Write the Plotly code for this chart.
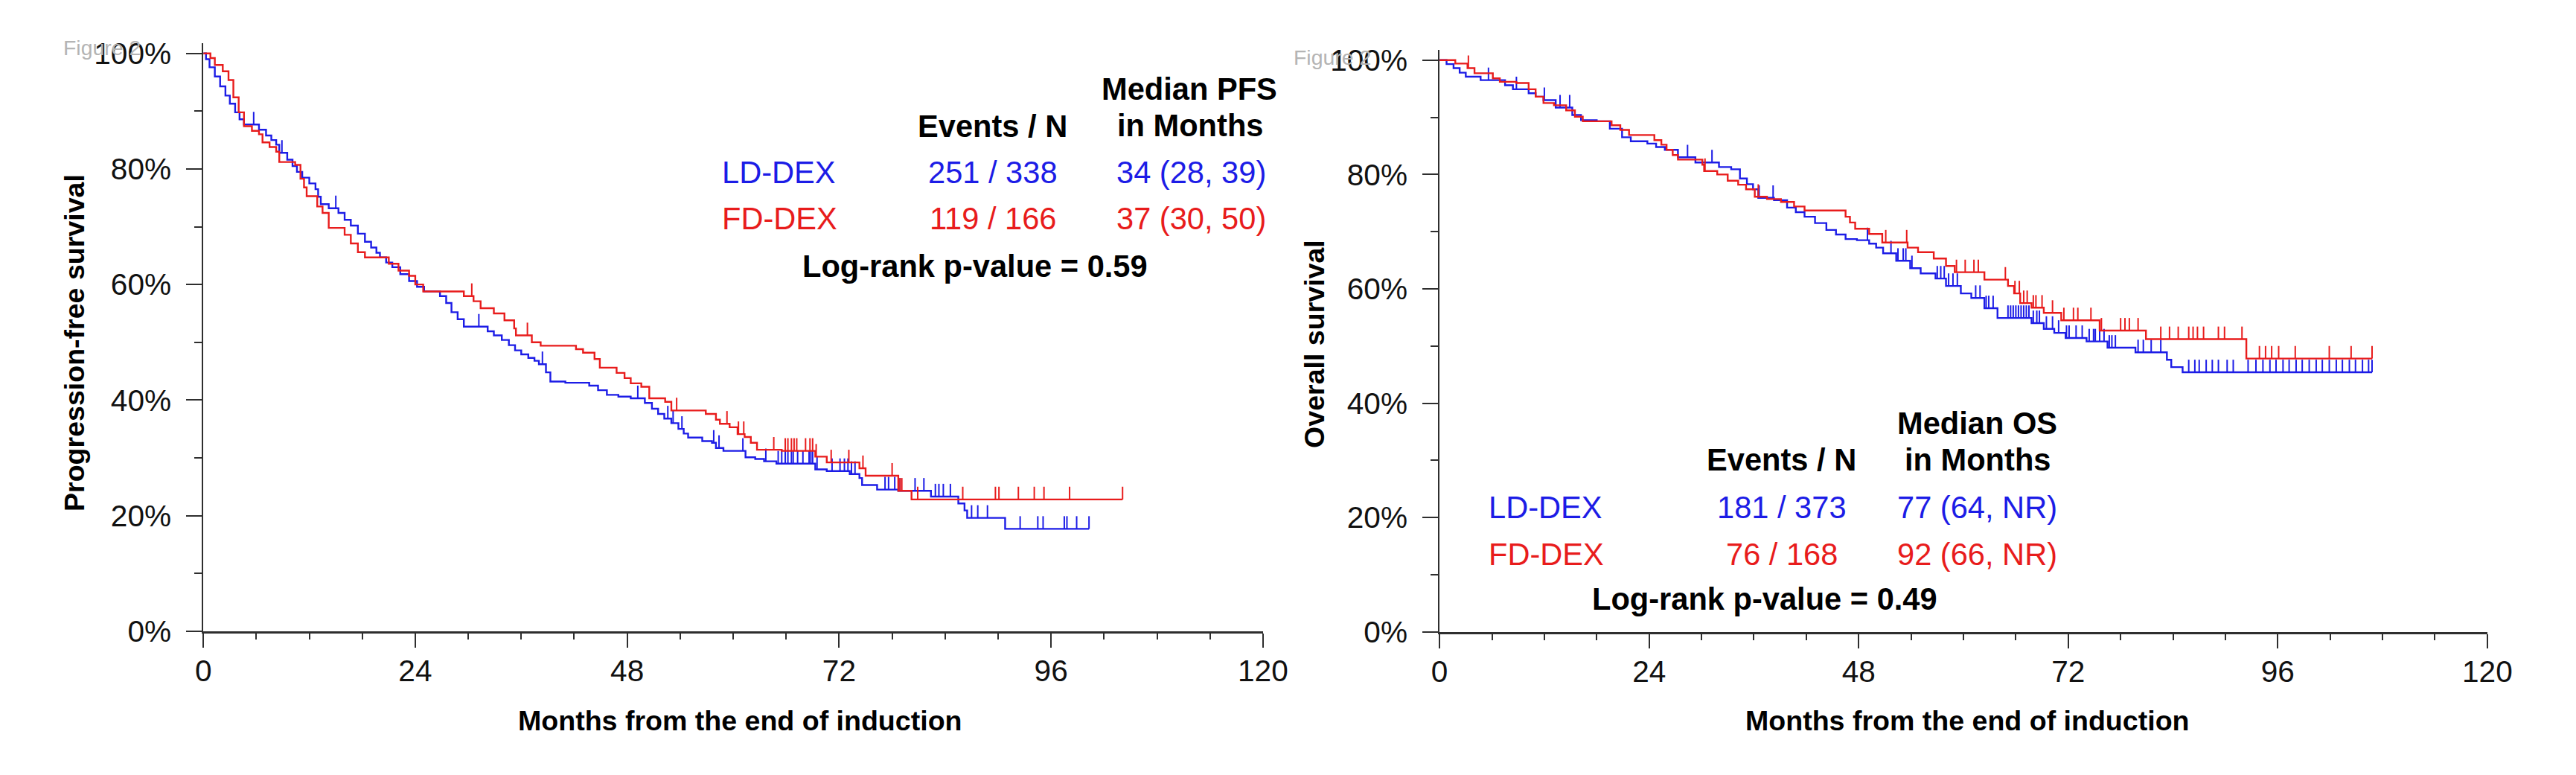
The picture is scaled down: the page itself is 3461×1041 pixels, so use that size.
import numpy as np
import plotly.graph_objects as go

W, H = 3461, 1041
FONT = "Liberation Sans, Arial, sans-serif"
BLUE = "#1c1ce6"
RED = "#e81c1c"

# ---------------- Progression-free survival (left panel) ----------------
pfs_ld_t = [0, 0.3, 0.7, 1.3, 1.9, 2.5, 3.0, 3.6, 4.1, 4.6, 6.3, 7.1, 7.7, 8.25, 8.6, 9.5, 10.1, 10.6,
            11.2, 12.0, 12.7, 13.0, 13.3, 14.2, 15.3, 16.0, 16.7, 17.5, 18.3, 19.0, 19.6, 20.0, 20.7,
            21.4, 22.3, 23.3, 24.2, 25.0, 26.8, 27.5, 28.1, 28.8, 29.5, 32.2, 32.9, 33.8, 34.6, 35.3,
            36.0, 36.8, 37.5, 38.0, 38.8, 39.3, 41.0, 43.7, 44.7, 45.7, 47.0, 48.4, 50.0, 50.8, 51.5,
            52.2, 53.0, 53.8, 54.4, 54.9, 56.5, 57.6, 58.05, 58.9, 61.4, 62.5, 63.5, 64.9, 69.3, 70.6,
            73.2, 74.3, 74.6, 76.3, 78.7, 82.4, 85.5, 86.2, 86.5, 90.8, 100.3]
pfs_ld_s = [100, 99.0, 97.6, 96.0, 94.3, 92.7, 91.3, 89.8, 88.6, 87.7, 86.8, 85.8, 85.0, 84.2, 82.8, 81.6,
            80.5, 79.5, 78.5, 77.5, 76.5, 75.2, 73.9, 73.2, 72.4, 71.2, 70.2, 68.8, 67.4, 66.4, 65.5,
            64.7, 63.8, 63.0, 61.8, 60.6, 59.6, 58.8, 58.0, 56.8, 55.2, 54.0, 52.7, 51.9, 51.2, 50.4,
            49.5, 48.6, 47.9, 47.3, 46.8, 46.2, 44.8, 43.2, 43.0, 42.5, 41.7, 40.9, 40.6, 40.3, 39.5,
            38.5, 37.6, 36.8, 36.0, 35.0, 34.2, 33.5, 32.9, 32.6, 31.7, 31.2, 30.1, 29.8, 29.4, 29.0,
            28.0, 27.7, 27.2, 26.5, 25.3, 24.5, 24.3, 23.3, 22.1, 20.9, 19.6, 17.7, 17.7]
pfs_ld_cens = [5.7, 8.9, 15.0, 31.2, 38.4, 49.2, 52.6, 53.2, 54.2, 57.8, 58.4, 61.1, 63.7, 65.1, 65.5,
               65.9, 66.2, 66.6, 66.8, 67.3, 67.9, 68.6, 68.8, 69.0, 69.5, 71.2, 72.1, 72.6, 73.0, 73.4,
               73.8, 77.2, 77.6, 78.3, 78.9, 80.6, 81.6, 82.9, 83.3, 83.8, 84.6, 87.0, 87.7, 88.8, 92.5,
               94.5, 95.1, 97.5, 97.8, 98.9, 100.3]

pfs_fd_t = [0, 0.8, 1.3, 2.2, 2.85, 3.4, 4.0, 4.6, 5.5, 6.3, 6.7, 7.5, 8.25, 8.6, 10.4, 11.0, 11.4, 11.7,
            12.9, 13.5, 14.2, 16.0, 16.7, 17.5, 18.3, 21.0, 22.1, 23.3, 24.0, 24.9, 29.5, 30.6, 31.4,
            32.9, 34.1, 35.2, 35.4, 37.2, 38.2, 42.2, 43.0, 44.3, 44.9, 46.8, 47.7, 48.4, 49.6, 50.5,
            52.3, 53.0, 56.9, 58.05, 58.5, 59.6, 60.5, 61.3, 62.0, 62.7, 65.5, 69.3, 70.6, 74.3, 75.0,
            78.7, 80.2, 104.1]
pfs_fd_s = [100, 99.2, 98.0, 96.9, 95.4, 92.4, 89.8, 87.4, 86.6, 86.0, 84.6, 83.8, 83.0, 81.2, 80.7, 78.3,
            76.8, 75.3, 73.5, 72.4, 69.8, 68.6, 67.1, 65.6, 64.7, 63.6, 62.4, 61.5, 60.0, 58.8, 58.0,
            57.1, 55.9, 55.0, 53.8, 52.4, 51.2, 50.0, 49.4, 48.8, 48.2, 47.1, 45.6, 44.7, 43.8, 42.9,
            42.3, 40.3, 39.7, 38.2, 37.6, 36.6, 35.9, 35.3, 34.1, 33.6, 32.6, 31.4, 31.2, 30.2, 29.2,
            28.2, 26.9, 24.3, 22.8, 22.8]
pfs_fd_cens = [30.4, 36.7, 53.6, 59.3, 60.6, 61.2, 64.6, 65.9, 66.2, 66.6, 66.9, 67.2, 68.2, 68.7, 69.0,
               69.4, 71.1, 73.1, 74.7, 78.0, 78.9, 79.1, 80.9, 86.0, 89.7, 90.1, 92.3, 94.1, 95.2, 98.1,
               104.1]

# ---------------- Overall survival (right panel) ----------------
os_ld_t = [0, 0.8, 1.6, 2.3, 3.0, 4.7, 7.5, 8.4, 10.2, 11.0, 11.9, 13.3, 15.2, 16.2, 18.0, 19.5, 20.9,
           21.9, 23.8, 24.8, 25.8, 27.3, 29.3, 32.0, 33.4, 34.4, 35.2, 35.9, 36.5, 38.3, 39.8, 40.8,
           41.8, 43.0, 44.3, 45.4, 46.5, 47.8, 49.2, 50.0, 50.8, 52.3, 53.9, 55.1, 56.8, 58.0, 59.7,
           60.9, 62.4, 63.9, 67.8, 69.2, 70.4, 71.7, 74.1, 76.5, 79.7, 83.3, 83.8, 85.1, 106.8]
os_ld_s = [100, 99.3, 98.6, 97.8, 97.1, 96.5, 95.6, 94.9, 94.2, 93.6, 93.0, 91.7, 90.4, 89.5, 89.3, 88.0,
           86.5, 85.8, 85.4, 84.8, 84.3, 83.0, 82.1, 81.3, 80.9, 79.3, 78.3, 77.4, 75.9, 75.5, 74.2,
           73.4, 72.6, 71.5, 70.3, 69.5, 68.7, 68.5, 67.9, 67.2, 66.2, 64.9, 63.6, 62.7, 61.8, 60.5,
           59.2, 58.4, 56.6, 54.9, 54.0, 53.0, 52.3, 51.4, 50.8, 49.7, 48.9, 47.6, 46.3, 45.4, 45.4]
os_ld_cens = [5.6, 8.8, 12.0, 13.8, 14.9, 28.4, 31.2, 36.6, 38.2, 49.0, 51.7, 52.5, 53.1, 53.4, 54.1,
              57.0, 57.4, 57.8, 58.3, 58.8, 59.3, 61.4, 61.9, 62.6, 62.9, 63.4, 65.1, 65.4, 65.7, 66.0,
              66.3, 66.6, 66.9, 67.2, 67.5, 68.0, 68.4, 68.7, 69.5, 70.2, 70.9, 71.8, 72.1, 72.9, 73.6,
              74.4, 74.9, 75.1, 75.6, 76.1, 76.7, 77.0, 77.4, 80.0, 80.6, 81.5, 82.6, 85.8, 86.5, 87.0,
              87.8, 88.5, 89.2, 90.2, 90.9, 92.6, 93.5, 94.3, 95.1, 95.8, 96.6, 97.3, 98.1, 98.8, 99.6,
              100.4, 101.1, 101.9, 102.7, 103.4, 104.2, 104.9, 105.7, 106.4, 106.8]

os_fd_t = [0, 1.8, 3.2, 4.0, 6.1, 6.9, 8.8, 10.2, 11.0, 11.9, 13.1, 14.5, 15.5, 16.4, 19.7, 20.7, 21.7,
           24.6, 25.4, 26.0, 26.7, 27.3, 30.1, 30.3, 31.8, 33.0, 34.2, 35.1, 36.1, 37.5, 39.1, 40.6,
           41.8, 46.5, 47.0, 47.6, 49.2, 50.7, 53.6, 54.8, 56.6, 58.0, 59.0, 62.4, 65.1, 65.8, 66.5,
           67.8, 69.2, 71.2, 75.6, 80.9, 92.4, 106.8]
os_fd_s = [100, 99.4, 98.6, 97.7, 96.8, 96.2, 96.0, 94.9, 93.6, 92.5, 92.1, 91.2, 90.1, 89.3, 88.6, 87.8,
           86.9, 86.0, 85.2, 84.3, 83.4, 82.6, 81.7, 80.6, 80.0, 78.9, 78.2, 77.4, 76.1, 75.7, 75.2,
           74.4, 73.7, 72.6, 71.6, 70.5, 69.6, 68.1, 67.2, 66.4, 65.3, 64.0, 62.9, 61.6, 60.5, 59.2,
           57.5, 56.7, 55.8, 54.5, 52.7, 51.2, 47.8, 47.8]
os_fd_cens = [3.3, 30.4, 36.5, 51.1, 53.5, 59.2, 60.2, 61.2, 61.7, 64.8, 65.9, 66.4, 66.9, 67.3, 68.0,
              68.3, 69.0, 70.2, 71.5, 72.6, 73.1, 74.6, 75.8, 78.0, 78.5, 79.0, 80.0, 82.6, 83.6, 84.6,
              85.8, 86.3, 86.8, 87.5, 89.2, 89.9, 91.9, 93.9, 94.6, 95.3, 96.1, 98.0, 101.9, 104.4, 106.8]

x_ticks = [0, 24, 48, 72, 96, 120]
y_ticks = [0, 20, 40, 60, 80, 100]
y_ticktext = [f"{v}%" for v in y_ticks]


def step_at(ts, ss, c):
    ts = np.asarray(ts)
    ss = np.asarray(ss)
    idx = np.searchsorted(ts, np.asarray(c), side="right") - 1
    return ss[np.clip(idx, 0, len(ss) - 1)]


# layout calibration: the photographed page comes out slightly shrunk/offset,
# so target pixel positions are mapped back to page pixels.
SX, OX = 0.990, 9.0
SY, OY = 0.973, 7.0
FS = 1.015


def cx(x):
    return (x - OX) / SX


def cy(y):
    return (y - OY) / SY


def px_x(x):
    return cx(x) / W


def px_y(y):
    return 1 - cy(y) / H


fig = go.Figure()


def add_curve(ts, ss, cens, color, xa, ya):
    fig.add_trace(go.Scatter(x=ts, y=ss, mode="lines", line=dict(color=color, width=2.4, shape="hv"),
                             xaxis=xa, yaxis=ya, showlegend=False, hoverinfo="skip"))
    cyv = step_at(ts, ss, cens)
    fig.add_trace(go.Scatter(x=cens, y=cyv, mode="markers",
                             marker=dict(size=1, color="rgba(0,0,0,0)"),
                             error_y=dict(type="data", symmetric=False, array=[2.2] * len(cens),
                                          arrayminus=[0] * len(cens), width=0, thickness=2, color=color),
                             xaxis=xa, yaxis=ya, showlegend=False, hoverinfo="skip"))


add_curve(pfs_ld_t, pfs_ld_s, pfs_ld_cens, BLUE, "x", "y")
add_curve(pfs_fd_t, pfs_fd_s, pfs_fd_cens, RED, "x", "y")
add_curve(os_ld_t, os_ld_s, os_ld_cens, BLUE, "x2", "y2")
add_curve(os_fd_t, os_fd_s, os_fd_cens, RED, "x2", "y2")

AX = "#2e2e2e"
tickfont = dict(family=FONT, size=40 * FS, color="#111111")


def xaxis(domain, anchor):
    return dict(domain=domain, range=[0, 120], tickvals=x_ticks, ticks="outside", ticklen=19,
                tickwidth=2, tickcolor=AX, showline=True, linewidth=3, linecolor=AX, showgrid=False,
                zeroline=False, tickfont=tickfont, ticklabelstandoff=-3, anchor=anchor,
                minor=dict(dtick=6, ticks="outside", ticklen=8, tickwidth=2, tickcolor=AX, showgrid=False))


def yaxis(domain, anchor):
    return dict(domain=domain, range=[0, 101.8], tickvals=y_ticks, ticktext=y_ticktext, ticks="outside",
                ticklen=21, tickwidth=2, tickcolor=AX, showline=True, linewidth=2, linecolor=AX,
                showgrid=False, zeroline=False, tickfont=tickfont, anchor=anchor, ticklabelstandoff=12,
                minor=dict(dtick=10, ticks="outside", ticklen=10, tickwidth=2, tickcolor=AX, showgrid=False))


anns = []


def ann(text, x, y, size=41, color="black", bold=False, xanchor="center", angle=0):
    anns.append(dict(text=f"<b>{text}</b>" if bold else text, x=px_x(x), y=px_y(y), xref="paper",
                     yref="paper", xanchor=xanchor, yanchor="middle", showarrow=False, textangle=angle,
                     font=dict(family=FONT, size=size * FS, color=color)))


# watermark labels (partly hidden behind the 100% tick label, as in the source figure)
ann("Figure 2", 81, 62, size=28, color="#b4b4b4", xanchor="left")
ann("Figure 2", 1739, 75, size=28, color="#b4b4b4", xanchor="left")

# axis titles
ann("Months from the end of induction", 995, 970, size=37, bold=True)
ann("Months from the end of induction", 2650, 970, size=37, bold=True)
ann("Progression-free survival", 99, 460, size=37, bold=True, angle=-90)
ann("Overall survival", 1770, 462, size=37, bold=True, angle=-90)

# left legend table
ann("Median PFS", 1601, 118, bold=True)
ann("in Months", 1602, 167, bold=True)
ann("Events / N", 1336, 168, bold=True)
ann("LD-DEX", 969, 230, color=BLUE, xanchor="left")
ann("251 / 338", 1336, 230, color=BLUE)
ann("34 (28, 39)", 1603, 230, color=BLUE)
ann("FD-DEX", 969, 293, color=RED, xanchor="left")
ann("119 / 166", 1336, 293, color=RED)
ann("37 (30, 50)", 1603, 293, color=RED)
ann("Log-rank p-value = 0.59", 1312, 357, bold=True)

# right legend table
ann("Median OS", 2663, 569, bold=True)
ann("in Months", 2663, 618, bold=True)
ann("Events / N", 2399, 618, bold=True)
ann("LD-DEX", 2002, 682, color=BLUE, xanchor="left")
ann("181 / 373", 2399, 682, color=BLUE)
ann("77 (64, NR)", 2663, 682, color=BLUE)
ann("FD-DEX", 2002, 745, color=RED, xanchor="left")
ann("76 / 168", 2399, 745, color=RED)
ann("92 (66, NR)", 2663, 745, color=RED)
ann("Log-rank p-value = 0.49", 2376, 806, bold=True)

# plot areas: target pixels of 0 and 100 % and of 0 and 120 months
L_Y0, L_Y100 = 849, 70
R_Y0, R_Y100 = 850, 79
TOP = 101.8
l_top = L_Y0 - (L_Y0 - L_Y100) * TOP / 100
r_top = R_Y0 - (R_Y0 - R_Y100) * TOP / 100

fig.update_layout(
    width=W, height=H, margin=dict(l=0, r=0, t=0, b=0),
    paper_bgcolor="white", plot_bgcolor="white",
    xaxis=xaxis([px_x(272), px_x(1700)], "y"),
    yaxis=yaxis([px_y(L_Y0), px_y(l_top)], "x"),
    xaxis2=xaxis([px_x(1938), px_x(3350)], "y2"),
    yaxis2=yaxis([px_y(R_Y0), px_y(r_top)], "x2"),
    annotations=anns,
    showlegend=False,
)

fig.write_html("out.html", config={"displayModeBar": False},
               post_script="document.body.style.margin='0';document.body.style.overflow='hidden';")
